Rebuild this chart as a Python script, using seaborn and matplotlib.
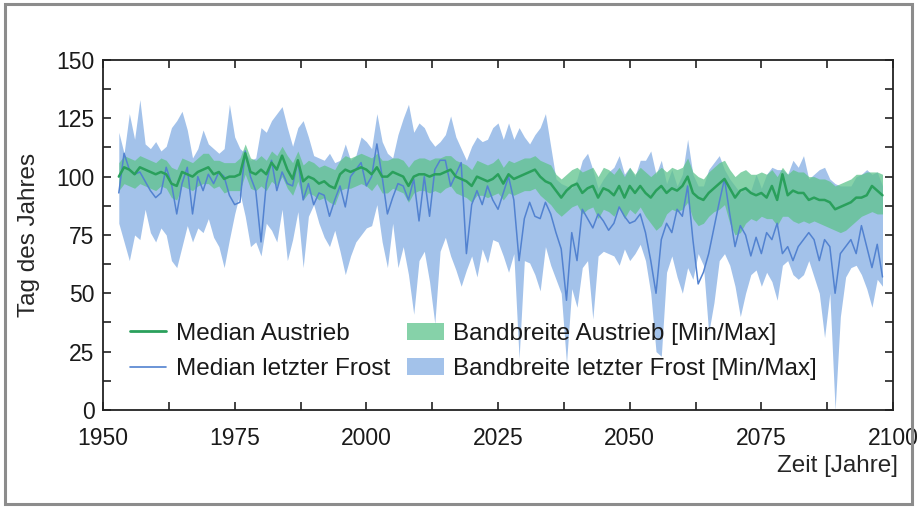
import numpy as np
import pandas as pd
import matplotlib
matplotlib.use("Agg")
import matplotlib.pyplot as plt
import seaborn as sns
from matplotlib.patches import Rectangle, Patch
from matplotlib.lines import Line2D
from matplotlib.ticker import MultipleLocator

# ---------------- data ----------------
years = list(range(1953, 2099))

# Median Austrieb (bud burst), day of year
budburst_median = [
    100, 104, 103, 101, 104, 103, 102, 101, 102, 101, 97, 96, 102, 101, 100, 102, 103, 104, 101, 102, 99, 100, 100,
    101, 110, 102, 101, 103, 101, 106, 103, 109, 103, 99, 107, 98, 100, 99, 97, 98, 96, 95, 101, 103, 102, 103, 104, 103,
    101, 104, 100, 100, 102, 101, 100, 96, 100, 101, 101, 100, 101, 101, 102, 103, 100, 99, 98, 96, 100, 99, 98, 99, 101,
    97, 101, 99, 100, 101, 102, 103, 100, 98, 97, 94, 91, 94, 96, 97, 93, 95, 96, 91, 95, 94, 92, 96, 91, 96,
    93, 96, 93, 91, 94, 96, 93, 95, 94, 96, 100, 93, 91, 90, 93, 95, 97, 99, 95, 91, 94, 95, 93, 92, 93,
    91, 96, 90, 101, 92, 94, 93, 93, 90, 91, 90, 90, 89, 86, 87, 88, 89, 91, 91, 92, 96, 94, 92,
]
budburst_max = [
    106, 109, 108, 107, 109, 108, 107, 106, 108, 107, 104, 103, 108, 107, 106, 108, 110, 110, 107, 107, 106, 106, 106,
    108, 114, 108, 107, 109, 107, 111, 109, 113, 109, 106, 111, 105, 107, 106, 104, 105, 104, 103, 107, 109, 108, 109, 110, 109,
    108, 110, 107, 107, 108, 108, 107, 104, 107, 108, 108, 107, 108, 108, 109, 109, 107, 106, 105, 103, 107, 106, 105, 106, 108,
    104, 107, 106, 107, 108, 108, 109, 107, 106, 105, 101, 99, 101, 103, 104, 102, 103, 104, 100, 104, 103, 101, 104, 100, 104,
    101, 104, 102, 100, 102, 104, 102, 104, 103, 104, 108, 102, 100, 99, 102, 104, 106, 107, 103, 100, 102, 103, 101, 101, 102,
    101, 103, 100, 104, 101, 103, 102, 102, 100, 100, 99, 99, 98, 96, 97, 98, 99, 101, 101, 102, 102, 102, 101,
]
budburst_min = [
    94, 97, 96, 95, 97, 96, 95, 94, 96, 95, 91, 90, 96, 95, 94, 96, 97, 97, 95, 96, 93, 94, 94,
    94, 101, 95, 94, 96, 94, 98, 96, 100, 95, 92, 98, 90, 93, 92, 90, 91, 89, 88, 94, 95, 95, 96, 97, 96,
    94, 97, 93, 93, 95, 94, 93, 89, 93, 94, 94, 93, 94, 93, 95, 96, 93, 92, 91, 89, 92, 92, 91, 92, 93,
    90, 93, 92, 93, 94, 94, 95, 92, 90, 88, 85, 83, 85, 87, 88, 84, 86, 87, 82, 86, 85, 83, 87, 82, 86,
    84, 87, 83, 80, 77, 79, 84, 86, 85, 86, 89, 82, 79, 80, 83, 85, 86, 88, 80, 75, 76, 80, 82, 81, 83,
    82, 82, 79, 83, 83, 81, 80, 81, 80, 81, 80, 79, 78, 77, 76, 77, 79, 81, 83, 84, 85, 84, 84,
]

# Median letzter Frost (last frost), day of year
frost_median = [
    93, 110, 103, 101, 102, 98, 94, 91, 93, 104, 97, 84, 97, 104, 84, 100, 94, 101, 97, 102, 100, 92, 88,
    89, 111, 100, 94, 72, 97, 107, 94, 102, 97, 96, 107, 90, 97, 88, 93, 92, 83, 90, 96, 87, 100, 103, 106, 96,
    100, 114, 100, 84, 91, 97, 96, 90, 99, 81, 100, 83, 103, 107, 107, 96, 101, 106, 67, 88, 94, 88, 96, 90, 86,
    93, 100, 90, 64, 82, 89, 83, 82, 89, 84, 76, 69, 47, 76, 64, 86, 82, 78, 84, 81, 77, 80, 87, 83, 80,
    81, 84, 76, 64, 50, 73, 80, 76, 86, 83, 96, 73, 54, 59, 67, 78, 89, 99, 84, 70, 79, 75, 66, 74, 67,
    76, 73, 80, 67, 70, 64, 70, 73, 76, 73, 64, 73, 70, 50, 67, 70, 73, 67, 79, 70, 61, 71, 57,
]
frost_max = [
    119, 110, 127, 116, 133, 114, 112, 115, 111, 113, 121, 124, 128, 120, 108, 112, 120, 114, 112, 110, 112, 131, 117,
    112, 110, 107, 108, 121, 119, 124, 127, 130, 121, 113, 121, 124, 117, 109, 108, 107, 110, 106, 107, 114, 107, 109, 117, 115,
    112, 127, 115, 110, 108, 118, 125, 131, 119, 123, 121, 116, 113, 115, 118, 126, 117, 112, 107, 113, 117, 115, 116, 121, 123,
    116, 123, 116, 121, 117, 114, 118, 121, 127, 113, 99, 97, 96, 95, 99, 107, 110, 103, 95, 99, 102, 104, 109, 101, 104,
    100, 107, 107, 111, 101, 107, 97, 103, 96, 101, 116, 101, 96, 96, 103, 106, 109, 103, 99, 96, 93, 96, 94, 101, 95,
    101, 104, 103, 103, 101, 107, 104, 109, 99, 101, 103, 104, 99, 97, 96, 96, 96, 100, 101, 103, 101, 102, 96,
]
frost_min = [
    80, 72, 64, 75, 73, 86, 76, 72, 78, 75, 64, 61, 70, 79, 72, 78, 76, 82, 74, 70, 61, 73, 84,
    93, 83, 70, 72, 66, 80, 77, 72, 86, 64, 73, 85, 61, 83, 88, 80, 74, 70, 77, 68, 58, 66, 72, 75, 78,
    79, 88, 72, 61, 80, 61, 70, 58, 41, 64, 68, 55, 37, 68, 74, 66, 60, 53, 60, 66, 57, 69, 63, 73, 72,
    66, 59, 67, 22, 64, 63, 58, 51, 70, 62, 56, 50, 20, 52, 44, 61, 64, 39, 66, 68, 67, 66, 62, 69, 64,
    67, 71, 64, 50, 25, 23, 59, 66, 57, 50, 61, 56, 67, 62, 33, 46, 64, 67, 62, 53, 40, 50, 58, 60, 53,
    59, 55, 47, 62, 64, 58, 56, 58, 64, 57, 50, 31, 50, 0, 40, 57, 61, 62, 58, 52, 44, 56, 53,
]

x_ticks = [1950, 1975, 2000, 2025, 2050, 2075, 2100]
y_ticks = [0, 25, 50, 75, 100, 125, 150]

legend_labels = [
    "Median Austrieb",
    "Median letzter Frost",
    "Bandbreite Austrieb [Min/Max]",
    "Bandbreite letzter Frost [Min/Max]",
]

df = pd.DataFrame({
    "Jahr": years,
    "austrieb_median": budburst_median,
    "austrieb_min": budburst_min,
    "austrieb_max": budburst_max,
    "frost_median": frost_median,
    "frost_min": frost_min,
    "frost_max": frost_max,
})

# ---------------- styling ----------------
sns.set_theme(style="ticks")
plt.rcParams["font.family"] = ["Liberation Sans", "DejaVu Sans"]
plt.rcParams["text.color"] = "#1a1a1a"

green_line = "#2aa05c"
green_band = "#5ec38c"
blue_line = "#5282d0"
blue_band = "#a3c2ea"
ink = "#222222"

fig = plt.figure(figsize=(9.18, 5.08), dpi=100)
fig.patch.set_facecolor("white")
ax = fig.add_axes([0.1122, 0.193, 0.8606, 0.689])

ax.fill_between(df["Jahr"], df["frost_min"], df["frost_max"], color=blue_band,
                lw=0, zorder=1)
ax.fill_between(df["Jahr"], df["austrieb_min"], df["austrieb_max"], color=green_band,
                alpha=0.75, lw=0, zorder=2)
sns.lineplot(data=df, x="Jahr", y="frost_median", color=blue_line, lw=1.1,
             ax=ax, zorder=3)
sns.lineplot(data=df, x="Jahr", y="austrieb_median", color=green_line, lw=1.8,
             ax=ax, zorder=4)

ax.set_xlim(1950, 2100)
ax.set_ylim(0, 150)
ax.xaxis.set_major_locator(MultipleLocator(25))
ax.xaxis.set_minor_locator(MultipleLocator(12.5))
ax.yaxis.set_major_locator(MultipleLocator(25))
ax.yaxis.set_minor_locator(MultipleLocator(12.5))
ax.set_xticks(x_ticks)
ax.set_yticks(y_ticks)
ax.set_xticklabels([str(v) for v in x_ticks])
ax.set_yticklabels([str(v) for v in y_ticks])

ax.tick_params(which="both", direction="in", top=True, right=True,
               length=5.5, width=1.2, color=ink, labelsize=16.5, labelcolor="#1a1a1a")
ax.tick_params(axis="x", which="major", pad=12)
ax.tick_params(axis="y", which="major", pad=6)
for s in ax.spines.values():
    s.set_color(ink)
    s.set_linewidth(1.3)

ax.set_ylabel("Tag des Jahres", fontsize=17.5)
ax.yaxis.set_label_coords(-0.08, 0.5)
ax.set_xlabel("Zeit [Jahre]", fontsize=17.5, ha="right")
ax.xaxis.set_label_coords(1.006, -0.13)

handles = [
    Line2D([], [], color=green_line, lw=2),
    Line2D([], [], color=blue_line, lw=1.2),
    Patch(facecolor=green_band, alpha=0.75, lw=0),
    Patch(facecolor=blue_band, lw=0),
]
ax.legend(handles, legend_labels, ncol=2, loc="lower left",
          bbox_to_anchor=(0.034, 0.085), frameon=False, fontsize=17.5,
          handlelength=1.5, handletextpad=0.4, columnspacing=0.7,
          labelspacing=0.55, borderpad=0, borderaxespad=0)

fig.add_artist(Rectangle((0.005, 0.008), 0.989, 0.984, transform=fig.transFigure,
                         fill=False, edgecolor="#8c8c8c", lw=2.2, zorder=10))

fig.savefig("out.png", dpi=100)
